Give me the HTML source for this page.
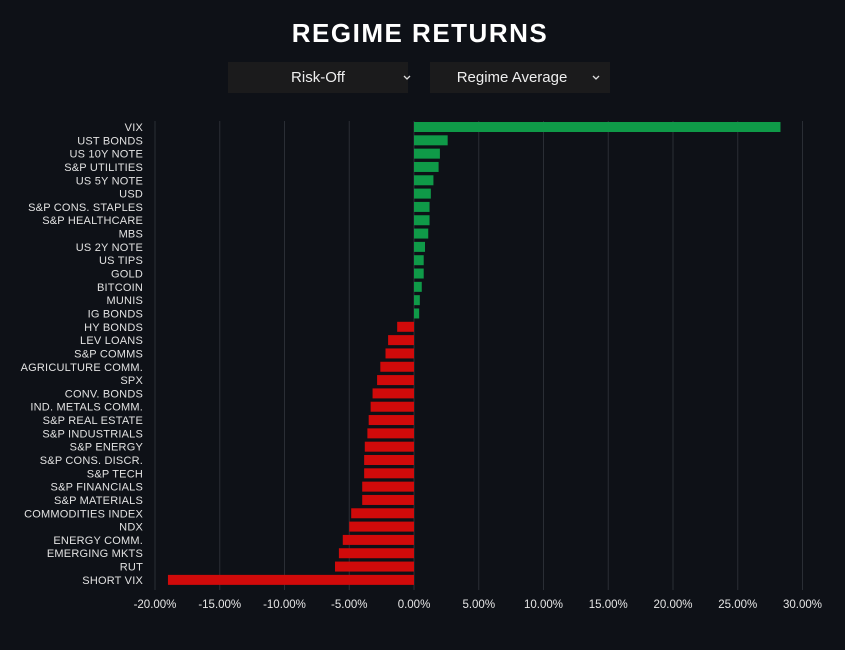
<!DOCTYPE html>
<html><head><meta charset="utf-8"><style>
body{margin:0;background:#0e1117;width:845px;height:645px;overflow:hidden;font-family:"Liberation Sans",sans-serif}
</style></head><body>
<svg width="845" height="645" xmlns="http://www.w3.org/2000/svg" font-family="Liberation Sans, sans-serif">
<rect width="845" height="645" fill="#0e1117"/>
<text x="420" y="42" text-anchor="middle" fill="#fff" font-size="26" font-weight="bold" letter-spacing="1.5">REGIME RETURNS</text>
<rect x="228" y="62" width="180" height="31" fill="#1b1b1c"/>
<rect x="430" y="62" width="180" height="31" fill="#1b1b1c"/>
<text x="318" y="82" text-anchor="middle" fill="#eee" font-size="15">Risk-Off</text>
<text x="512" y="82" text-anchor="middle" fill="#eee" font-size="15">Regime Average</text>
<path d="M404 76l3 3 3-3M593 76l3 3 3-3" stroke="#ddd" stroke-width="1.3" fill="none"/>
<g stroke="#2a2e35" stroke-width="1" id="grid"></g>
<g id="bars"></g>
</svg>
<script>
const d=[["VIX",28.3],["UST BONDS",2.6],["US 10Y NOTE",2.0],["S&P UTILITIES",1.9],["US 5Y NOTE",1.5],["USD",1.3],["S&P CONS. STAPLES",1.2],["S&P HEALTHCARE",1.2],["MBS",1.1],["US 2Y NOTE",0.85],["US TIPS",0.75],["GOLD",0.75],["BITCOIN",0.6],["MUNIS",0.45],["IG BONDS",0.4],["HY BONDS",-1.3],["LEV LOANS",-2.0],["S&P COMMS",-2.2],["AGRICULTURE COMM.",-2.6],["SPX",-2.85],["CONV. BONDS",-3.2],["IND. METALS COMM.",-3.35],["S&P REAL ESTATE",-3.5],["S&P INDUSTRIALS",-3.6],["S&P ENERGY",-3.8],["S&P CONS. DISCR.",-3.85],["S&P TECH",-3.85],["S&P FINANCIALS",-4.0],["S&P MATERIALS",-4.0],["COMMODITIES INDEX",-4.85],["NDX",-5.0],["ENERGY COMM.",-5.5],["EMERGING MKTS",-5.8],["RUT",-6.1],["SHORT VIX",-19.0]];
const ns="http://www.w3.org/2000/svg",s=12.95,z=414;
const g=document.getElementById("grid"),b=document.getElementById("bars");
function el(t,a,p,txt){const e=document.createElementNS(ns,t);for(const k in a)e.setAttribute(k,a[k]);if(txt)e.textContent=txt;p.appendChild(e);}
for(let v=-20;v<=30;v+=5){const x=z+v*s;el("line",{x1:x,x2:x,y1:121,y2:590},g);
el("text",{x:x,y:608,"text-anchor":"middle",fill:"#e6e6e6","font-size":"11.5"},b,v.toFixed(2)+"%");}
d.forEach((r,i)=>{const y=127+13.32*i,v=r[1],w=Math.abs(v)*s;
el("rect",{x:v>=0?z:z-w,y:y-5,width:w,height:10,fill:v>=0?"#0f9a48":"#d00a0a"},b);
el("text",{x:143,y:y+4,"text-anchor":"end",fill:"#e2e2e2","font-size":"11","letter-spacing":"0.2"},b,r[0]);});
</script>
</body></html>
